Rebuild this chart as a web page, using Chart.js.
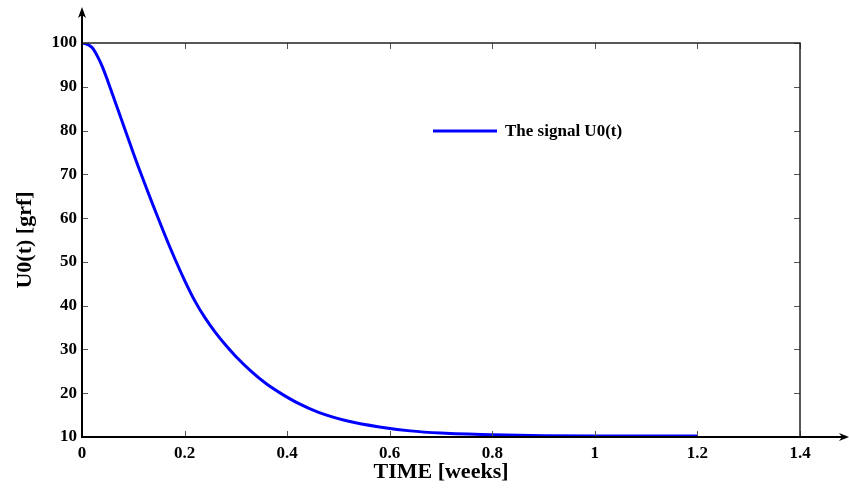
<!DOCTYPE html>
<html>
<head>
<meta charset="utf-8">
<script src="https://cdn.jsdelivr.net/npm/chart.js@4/dist/chart.umd.min.js"></script>
<style>
  html, body { margin:0; padding:0; background:#fff; }
  #wrap { width:849px; height:488px; }
</style>
</head>
<body>
<div id="wrap"><canvas id="chart" width="849" height="488"></canvas></div>
<script>
// values
const timeWeeks = [0, 0.01, 0.02, 0.03, 0.04, 0.05, 0.06, 0.07, 0.08, 0.09, 0.10, 0.11, 0.12, 0.13, 0.14,
  0.16, 0.18, 0.20, 0.22, 0.24, 0.26, 0.28, 0.30, 0.33, 0.36, 0.39, 0.42, 0.46, 0.52, 0.58, 0.64, 0.70,
  0.80, 0.90, 1.00, 1.10, 1.20];
const signalU0 = [100, 99.7, 98.9, 97.0, 94.5, 91.4, 88.1, 84.8, 81.5, 78.2, 74.9, 71.7, 68.6, 65.5, 62.5,
  56.6, 51.0, 45.8, 41.1, 37.2, 33.9, 31.0, 28.4, 25.0, 22.1, 19.8, 17.8, 15.7, 13.6, 12.3, 11.4, 10.9,
  10.5, 10.3, 10.2, 10.2, 10.2];
const seriesLabel = 'The signal U0(t)';
const xTicks = [0, 0.2, 0.4, 0.6, 0.8, 1, 1.2, 1.4];
const yTicks = [10, 20, 30, 40, 50, 60, 70, 80, 90, 100];

const serif = '"Liberation Serif", "DejaVu Serif", serif';

// box, inner ticks, arrows and legend drawn like the matlab figure
const framePlugin = {
  id: 'frame',
  afterDraw(chart){
    const ctx = chart.ctx;
    const a = chart.chartArea;
    const xs = chart.scales.x, ys = chart.scales.y;
    ctx.save();
    // inner ticks
    ctx.strokeStyle = '#555';
    ctx.lineWidth = 1;
    xTicks.forEach(v=>{
      const px = Math.round(xs.getPixelForValue(v)) + 0.5;
      ctx.beginPath();
      ctx.moveTo(px, a.bottom); ctx.lineTo(px, a.bottom - 6);
      ctx.moveTo(px, a.top); ctx.lineTo(px, a.top + 6);
      ctx.stroke();
    });
    yTicks.forEach(v=>{
      const py = Math.round(ys.getPixelForValue(v)) + 0.5;
      ctx.beginPath();
      ctx.moveTo(a.left, py); ctx.lineTo(a.left + 6, py);
      ctx.moveTo(a.right, py); ctx.lineTo(a.right - 6, py);
      ctx.stroke();
    });
    // top and right border
    ctx.strokeStyle = '#222';
    ctx.lineWidth = 1.5;
    ctx.beginPath();
    ctx.moveTo(a.left, a.top); ctx.lineTo(a.right, a.top); ctx.lineTo(a.right, a.bottom);
    ctx.stroke();
    // axes with arrows
    ctx.strokeStyle = '#000';
    ctx.lineWidth = 2;
    ctx.beginPath();
    ctx.moveTo(a.left, a.bottom); ctx.lineTo(a.left, 12);
    ctx.moveTo(a.left, a.bottom); ctx.lineTo(845, a.bottom);
    ctx.stroke();
    ctx.fillStyle = '#000';
    ctx.beginPath();
    ctx.moveTo(a.left, 7); ctx.lineTo(a.left - 4, 18); ctx.lineTo(a.left, 15); ctx.lineTo(a.left + 4, 18);
    ctx.closePath(); ctx.fill();
    ctx.beginPath();
    ctx.moveTo(849, a.bottom); ctx.lineTo(839, a.bottom - 4); ctx.lineTo(842, a.bottom); ctx.lineTo(839, a.bottom + 4);
    ctx.closePath(); ctx.fill();
    // legend
    const ds = chart.data.datasets[0];
    ctx.strokeStyle = ds.borderColor;
    ctx.lineWidth = 3;
    ctx.beginPath();
    ctx.moveTo(433, 131); ctx.lineTo(497, 131);
    ctx.stroke();
    ctx.fillStyle = '#000';
    ctx.font = 'bold 17px ' + serif;
    ctx.textBaseline = 'middle';
    ctx.textAlign = 'left';
    ctx.fillText(ds.label, 505, 132);
    ctx.restore();
  }
};

const ctx = document.getElementById('chart').getContext('2d');
new Chart(ctx, {
  type: 'line',
  data: {
    datasets: [{
      label: seriesLabel,
      data: timeWeeks.map((t,i)=>({x:t, y:signalU0[i]})),
      borderColor: '#0000ff',
      borderWidth: 3,
      pointRadius: 0,
      cubicInterpolationMode: 'monotone',
      fill: false
    }]
  },
  options: {
    responsive: false,
    animation: false,
    layout: { padding: { top: 43, right: 49, left: 0, bottom: 0 } },
    plugins: { legend: { display: false }, tooltip: { enabled: false } },
    scales: {
      x: {
        type: 'linear', min: 0, max: 1.4,
        afterFit(s){ s.height = 51; },
        afterBuildTicks(s){ s.ticks = xTicks.map(v=>({value:v})); },
        grid: { display: false, drawTicks: false },
        border: { display: true, color: '#000', width: 2 },
        ticks: {
          padding: 6, color: '#000',
          font: { family: serif, size: 17, weight: 'bold' },
          callback: v => String(Number(v.toFixed(1)))
        },
        title: {
          display: true, text: 'TIME [weeks]', color: '#000',
          font: { family: serif, size: 22, weight: 'bold' },
          padding: { top: 0, bottom: 2 }
        }
      },
      y: {
        min: 10, max: 100,
        afterFit(s){ s.width = 82; },
        afterBuildTicks(s){ s.ticks = yTicks.map(v=>({value:v})); },
        grid: { display: false, drawTicks: false },
        border: { display: true, color: '#000', width: 2 },
        ticks: {
          padding: 5, color: '#000',
          font: { family: serif, size: 17, weight: 'bold' }
        },
        title: {
          display: true, text: 'U0(t) [grf]', color: '#000',
          font: { family: serif, size: 22, weight: 'bold' },
          padding: { top: 12, bottom: 0 }
        }
      }
    }
  },
  plugins: [framePlugin]
});
</script>
</body>
</html>
